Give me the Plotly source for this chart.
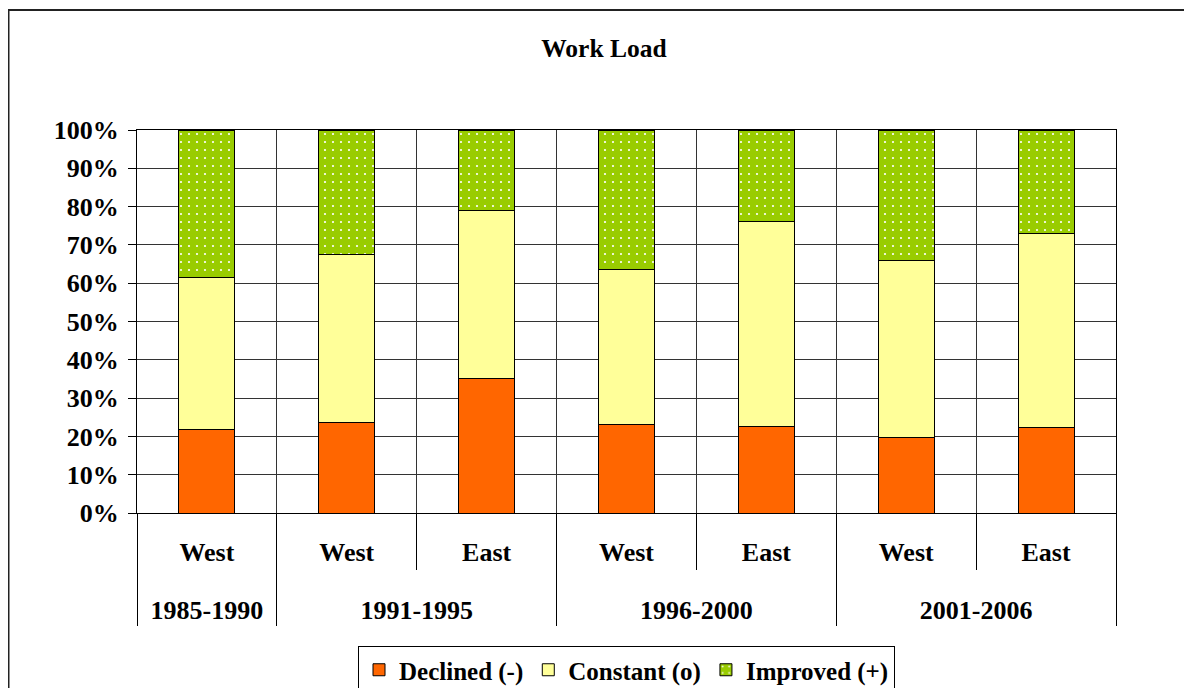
import plotly.graph_objects as go

# ---- data ----
periods = ["1985-1990", "1991-1995", "1991-1995", "1996-2000", "1996-2000", "2001-2006", "2001-2006"]
regions = ["West", "West", "East", "West", "East", "West", "East"]
declined = [21.7, 23.6, 35.0, 23.0, 22.6, 19.6, 22.4]
constant = [39.7, 43.8, 43.9, 40.5, 53.6, 46.4, 50.5]
improved = [38.6, 32.6, 21.1, 36.5, 23.8, 34.0, 27.1]
series_names = ["Declined (-)", "Constant (o)", "Improved (+)"]
y_tick_vals = [0, 10, 20, 30, 40, 50, 60, 70, 80, 90, 100]
y_tick_text = [f"{v}%" for v in y_tick_vals]

FONT = "Liberation Serif"
LBL = 25
AX = 26
W, H = 1184, 680          # page body has an 8px margin
OFF = 8
PX0, PX1, PY0, PY1 = 137, 1116, 130, 513   # plot area in page pixels

def inner(txt):
    return (f"<span style='font-size:{AX}px'>{txt}</span>"
            "<br><span style='font-size:1px;color:rgba(0,0,0,0)'>.</span>")

def outer(txt):
    return f"<span style='font-size:{AX}px'>{txt}</span>"

x = [[outer(p) for p in periods], [inner(r) for r in regions]]

fig = go.Figure()
fig.add_trace(go.Bar(x=x, y=declined, name=series_names[0],
                     marker=dict(color="#FF6600", line=dict(color="black", width=1))))
fig.add_trace(go.Bar(x=x, y=constant, name=series_names[1],
                     marker=dict(color="#FFFF99", line=dict(color="black", width=1))))
fig.add_trace(go.Bar(x=x, y=improved, name=series_names[2],
                     marker=dict(color="#99CC00", line=dict(color="black", width=1),
                                 pattern=dict(shape=".", bgcolor="#99CC00", fgcolor="white",
                                              fgopacity=1, size=8, solidity=0.06))))

pw = PX1 - PX0
ph = PY1 - PY0
fig.update_layout(
    width=W, height=H,
    margin=dict(l=PX0 - OFF, r=W - (PX1 - OFF), t=PY0 - OFF, b=H - (PY1 - OFF), autoexpand=False),
    paper_bgcolor="white", plot_bgcolor="white",
    barmode="stack", barnorm="percent", bargap=0.6,
    font=dict(family=FONT, size=LBL, color="black", weight="bold"),
    title=dict(text="Work Load", x=(604 - OFF) / W, xref="container", xanchor="center",
               y=1 - (48 - OFF) / H, yref="container", yanchor="middle",
               font=dict(family=FONT, size=LBL + 0.5, color="black", weight="bold")),
    legend=dict(orientation="h", x=0.5, xanchor="center", y=(PY1 - 646) / ph, yanchor="top",
                bordercolor="black", borderwidth=1, bgcolor="white",
                font=dict(family=FONT, size=LBL, color="black", weight="bold"),
                traceorder="normal"),
    showlegend=True,
)

fig.update_xaxes(type="multicategory", tickson="boundaries", ticks="outside", ticklen=56,
                 tickcolor="black", tickwidth=1,
                 showgrid=True, gridcolor="#333333", gridwidth=1,
                 showline=True, linecolor="black", linewidth=1, mirror=True,
                 showdividers=True, dividercolor="black", dividerwidth=1,
                 tickfont=dict(family=FONT, size=32, color="black", weight="bold"),
                 ticklabelstandoff=9, automargin=False)
fig.update_yaxes(range=[0, 100], tickmode="array", tickvals=y_tick_vals, ticktext=y_tick_text,
                 ticks="outside", ticklen=8, tickcolor="black",
                 showgrid=True, gridcolor="#333333", gridwidth=1,
                 showline=True, linecolor="black", linewidth=1, mirror=True,
                 tickfont=dict(family=FONT, size=AX, color="black", weight="bold"),
                 ticklabelstandoff=4, automargin=False, zeroline=False)

# chart-area border (left/top edges of the chart area)
fig.add_shape(type="rect", xref="paper", yref="paper",
              x0=(OFF - PX0 + 0.5) / pw, x1=(1210 - PX0) / pw,
              y0=(PY1 - 720) / ph, y1=(PY1 - 10) / ph,
              line=dict(color="#222222", width=2), fillcolor="rgba(0,0,0,0)", layer="below")

fig.write_html("out.html")
